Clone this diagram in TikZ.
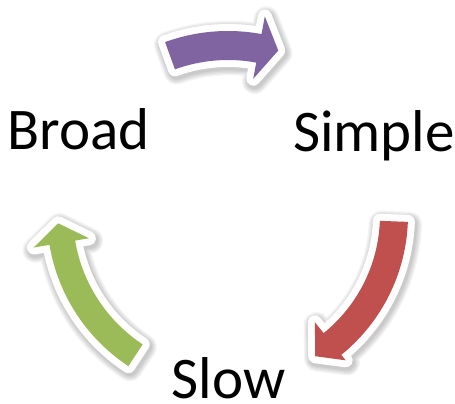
\documentclass[tikz,border=0pt]{standalone}
\usepackage{fontspec}
\setmainfont{Carlito}
\definecolor{apurple}{HTML}{8064A2}
\definecolor{ared}{HTML}{C0504D}
\definecolor{agreen}{HTML}{9BBB59}
\tikzset{
  lbl/.style={font=\fontsize{59}{70}\selectfont, inner sep=0pt, anchor=base west, text=black},
  arrowshape/.style n args={8}{insert path={(#1:#5) arc[start angle=#1, end angle=#2, radius=#5]
     -- (#2:#7) -- (#3:#8) -- (#2:#6) -- (#2:#4) arc[start angle=#2, end angle=#1, radius=#4] -- cycle}},
  outline/.style={draw=white, fill=white, line width=14pt, line join=round},
}
\newcommand\cyclearrow[2]{%
  \begin{scope}[shift={(228,189)}]
    \foreach \k in {1,...,5}{%
      \pgfmathsetmacro\lw{13+2.5*\k}%
      \filldraw[black, opacity=0.045, line width=\lw pt, line join=round, shift={(1.5,-2.5)}, arrowshape/.expanded=#2];
    }
    \filldraw[outline, arrowshape/.expanded=#2];
    \fill[#1, arrowshape/.expanded=#2];
  \end{scope}}
\begin{document}
\begin{tikzpicture}[x=1pt,y=1pt]
\useasboundingbox (0,0) rectangle (455,404);
\fill[white] (0,0) rectangle (455,404);
\cyclearrow{apurple}{{110}{79.5}{73}{155}{184}{138.5}{202}{172}}
\cyclearrow{ared}{{-2.2}{-51}{-58.3}{152}{180}{138}{187}{166}}
\cyclearrow{agreen}{{236.6}{189.5}{182.8}{155}{181}{141}{197}{170}}
\node[lbl] (broad) at (7.5,254) {Broad};
\node[lbl] (simple) at (293,252.3) {Simple};
\node[lbl] (slow) at (171.5,5.5) {Slow};
\end{tikzpicture}
\end{document}
